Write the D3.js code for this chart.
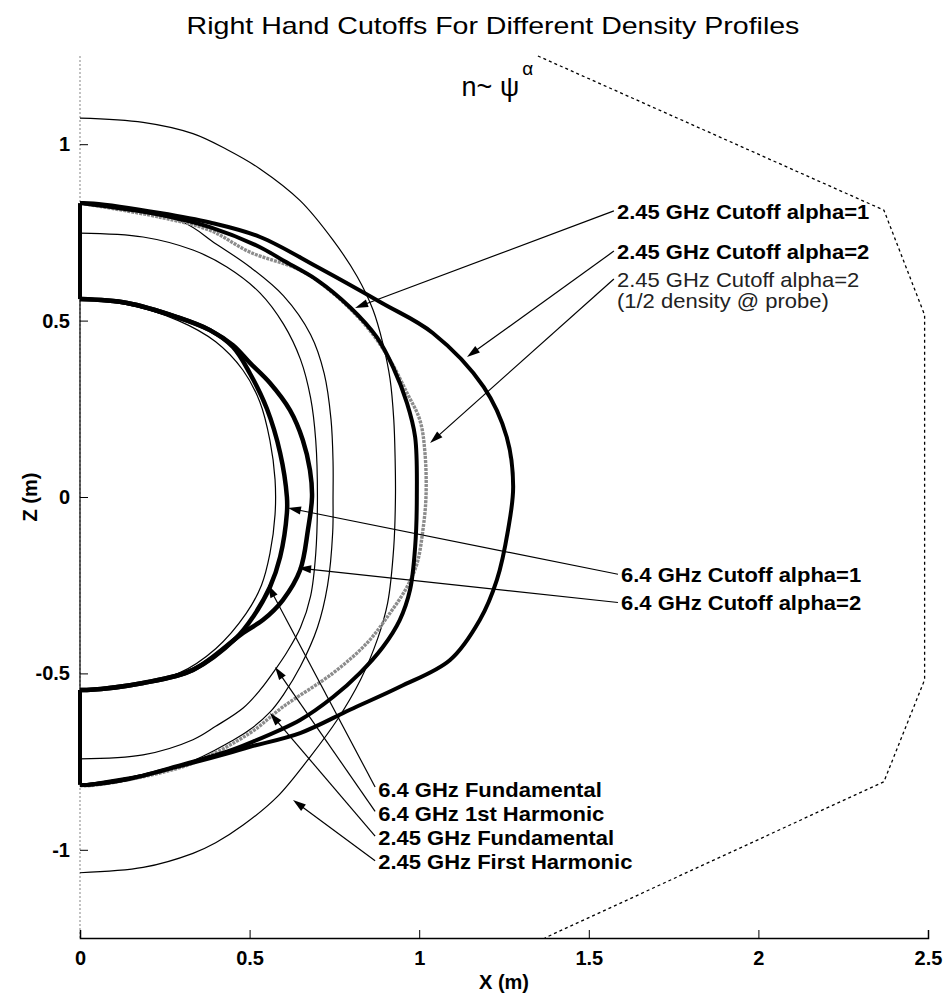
<!DOCTYPE html>
<html>
<head>
<meta charset="utf-8">
<script src="https://cdn.jsdelivr.net/npm/d3@7"></script>
<style>
  body { margin: 0; background: #fff; }
  text { font-family: "Liberation Sans", Arial, sans-serif; fill: #000; }
</style>
</head>
<body>
<div id="chart"></div>
<script>
// cutoff / resonance contours, [x, z] in metres, top -> bottom

// 2.45 GHz cutoff, alpha = 2 (outer thick)
const cut245a2 = [[0,0.833],[0.04,0.832],[0.236,0.805],[0.383,0.778],[0.531,0.737],[0.70,0.652],[0.89,0.55],[1.04,0.465],
  [1.19,0.312],[1.258,0.17],[1.277,0.03],[1.262,-0.093],[1.229,-0.235],[1.179,-0.348],[1.091,-0.462],[0.943,-0.538],
  [0.796,-0.603],[0.649,-0.669],[0.501,-0.708],[0.433,-0.727],[0.286,-0.765],[0.139,-0.800],[0.02,-0.816],[0,-0.816]];
// 2.45 GHz cutoff, alpha = 1
const cut245a1 = [[0,0.833],[0.236,0.80],[0.383,0.765],[0.531,0.708],[0.598,0.671],[0.699,0.615],[0.796,0.538],[0.875,0.453],
  [0.923,0.368],[0.964,0.266],[0.988,0.17],[0.993,0.0],[0.988,-0.142],[0.973,-0.263],[0.943,-0.348],[0.893,-0.425],
  [0.825,-0.499],[0.746,-0.567],[0.649,-0.632],[0.501,-0.697],[0.433,-0.722],[0.286,-0.763],[0.139,-0.800],[0.02,-0.816],[0,-0.816]];
// 2.45 GHz cutoff, alpha = 2, half density at probe (grey)
const cut245half = [[0,0.833],[0.236,0.793],[0.383,0.756],[0.501,0.694],[0.649,0.643],[0.746,0.578],[0.846,0.482],[0.914,0.388],
  [0.964,0.295],[1.002,0.218],[1.017,0.125],[1.020,0.0],[1.011,-0.093],[0.994,-0.187],[0.964,-0.255],[0.914,-0.329],
  [0.846,-0.414],[0.746,-0.499],[0.598,-0.595],[0.501,-0.669],[0.333,-0.754],[0.186,-0.793],[0.03,-0.818],[0,-0.818]];
// 6.4 GHz cutoff, alpha = 1
const cut64a1 = [[0,0.561],[0.139,0.550],[0.286,0.510],[0.383,0.473],[0.451,0.425],[0.501,0.35],[0.551,0.25],[0.590,0.125],
  [0.61,0.0],[0.61,-0.045],[0.59,-0.170],[0.56,-0.255],[0.51,-0.34],[0.46,-0.40],[0.333,-0.490],[0.186,-0.527],[0.02,-0.547],[0,-0.547]];
// 6.4 GHz cutoff, alpha = 2
const cut64a2 = [[0,0.561],[0.139,0.550],[0.286,0.510],[0.383,0.473],[0.451,0.43],[0.501,0.380],[0.56,0.323],[0.619,0.246],
  [0.657,0.161],[0.678,0.076],[0.684,0],[0.672,-0.093],[0.649,-0.207],[0.598,-0.292],[0.54,-0.348],[0.481,-0.385],
  [0.333,-0.490],[0.186,-0.527],[0.02,-0.547],[0,-0.547]];

// resonances (thin)
const res64fund = [[0,0.56],[0.14,0.545],[0.29,0.50],[0.40,0.44],[0.48,0.36],[0.53,0.27],[0.56,0.16],[0.575,0.05],
  [0.575,-0.05],[0.56,-0.16],[0.535,-0.25],[0.49,-0.33],[0.40,-0.43],[0.29,-0.50],[0.14,-0.535],[0,-0.547]];
const res64harm = [[0,0.748],[0.186,0.737],[0.333,0.70],[0.433,0.652],[0.531,0.578],[0.60,0.49],[0.65,0.39],[0.68,0.28],
  [0.695,0.16],[0.70,0.0],[0.695,-0.16],[0.68,-0.28],[0.65,-0.37],[0.61,-0.44],[0.575,-0.49],[0.531,-0.547],
  [0.481,-0.598],[0.40,-0.65],[0.333,-0.688],[0.186,-0.731],[0,-0.742]];
const res245fund = [[0,0.833],[0.30,0.78],[0.40,0.718],[0.501,0.652],[0.60,0.57],[0.68,0.46],[0.72,0.35],[0.74,0.22],
  [0.746,0.1],[0.746,0],[0.745,-0.1],[0.73,-0.25],[0.70,-0.37],[0.65,-0.48],[0.60,-0.56],[0.56,-0.61],[0.50,-0.66],
  [0.45,-0.69],[0.30,-0.76],[0,-0.816]];
const res245harm = [[0,1.074],[0.186,1.062],[0.333,1.030],[0.433,0.985],[0.531,0.930],[0.649,0.840],[0.746,0.728],
  [0.817,0.625],[0.864,0.530],[0.893,0.435],[0.914,0.335],[0.925,0.22],[0.929,0.11],[0.930,0],[0.925,-0.142],
  [0.907,-0.30],[0.878,-0.40],[0.827,-0.518],[0.758,-0.632],[0.678,-0.737],[0.581,-0.85],[0.481,-0.93],
  [0.40,-0.98],[0.333,-1.01],[0.186,-1.05],[0,-1.065]];

// vacuum vessel (dotted)
const vessel = [[1.35,1.25],[2.37,0.813],[2.49,0.516],[2.49,-0.518],[2.37,-0.807],[1.37,-1.25]];

// ticks
const xTicks = [0, 0.5, 1, 1.5, 2, 2.5];
const yTicks = [-1, -0.5, 0, 0.5, 1];

// labels: text, label anchor [x,z], arrow tip [x,z]
const labelText = ["2.45 GHz Cutoff alpha=1", "2.45 GHz Cutoff alpha=2", "2.45 GHz Cutoff alpha=2",
  "6.4 GHz Cutoff alpha=1", "6.4 GHz Cutoff alpha=2",
  "6.4 GHz Fundamental", "6.4 GHz 1st Harmonic", "2.45 GHz Fundamental", "2.45 GHz First Harmonic"];
const labelBold = [true, true, false, true, true, true, true, true, true];
const labelAt = [[1.583,0.808],[1.583,0.694],[1.583,0.615],[1.595,-0.221],[1.595,-0.301],
  [0.879,-0.830],[0.879,-0.899],[0.879,-0.967],[0.879,-1.035]];
const arrowFrom = [[1.574,0.811],[1.574,0.697],[1.574,0.618],[1.586,-0.219],[1.586,-0.299],
  [0.870,-0.822],[0.870,-0.891],[0.870,-0.961],[0.870,-1.031]];
const arrowTip = [[0.811,0.536],[1.141,0.397],[1.032,0.153],[0.613,-0.031],[0.643,-0.201],
  [0.554,-0.249],[0.575,-0.482],[0.560,-0.612],[0.628,-0.859]];

const W = 948, H = 996;
const svg = d3.select("#chart").append("svg").attr("width", W).attr("height", H);

const x = d3.scaleLinear().domain([0, 2.5]).range([80, 928]);
const y = d3.scaleLinear().domain([-1.25, 1.25]).range([938, 56]);
const smooth = d3.line().x(d => x(d[0])).y(d => y(d[1])).curve(d3.curveCatmullRom.alpha(0.5));
const straight = d3.line().x(d => x(d[0])).y(d => y(d[1]));

// AXES //
// left edge: grey speckled line with black middle
svg.append("line").attr("x1", x(0)).attr("x2", x(0)).attr("y1", y(1.25)).attr("y2", y(-1.25))
  .attr("stroke", "#999").attr("stroke-width", 1.2).attr("stroke-dasharray", "2,2");
svg.append("line").attr("x1", x(0)).attr("x2", x(0)).attr("y1", y(0.561)).attr("y2", y(-0.547))
  .attr("stroke", "#000").attr("stroke-width", 1.2);

const fmt = d => String(d);
const xAxis = svg.append("g").attr("transform", "translate(0," + y(-1.25) + ")")
  .call(d3.axisBottom(x).tickValues(xTicks).tickSize(-8).tickPadding(13).tickFormat(fmt));
xAxis.select(".domain").attr("stroke-width", 1.5);
xAxis.selectAll("text").style("font-size", "20px").style("font-weight", "bold")
  .style("font-family", "'Liberation Sans', Arial, sans-serif");

const yAxis = svg.append("g").attr("transform", "translate(" + x(0) + ",0)")
  .call(d3.axisLeft(y).tickValues(yTicks).tickSize(-8).tickPadding(10).tickFormat(fmt));
yAxis.select(".domain").remove();
yAxis.selectAll("text").style("font-size", "20px").style("font-weight", "bold")
  .style("font-family", "'Liberation Sans', Arial, sans-serif");

svg.append("text").attr("x", x(1.25)).attr("y", 989).attr("text-anchor", "middle")
  .style("font-size", "20px").style("font-weight", "bold").text("X (m)");
svg.append("text").attr("transform", "translate(37," + y(0) + ") rotate(-90)").attr("text-anchor", "middle")
  .style("font-size", "20px").style("font-weight", "bold").text("Z (m)");

// TITLE //
svg.append("text").attr("transform", "translate(" + 493 + ",34) scale(1.19,1)").attr("text-anchor", "middle")
  .style("font-size", "24px").text("Right Hand Cutoffs For Different Density Profiles");

// n ~ psi^alpha
const formula = svg.append("text").attr("x", x(1.125)).attr("y", 96).style("font-size", "27px");
formula.append("tspan").text("n~ ψ");
formula.append("tspan").attr("dy", -21).attr("dx", 3).style("font-size", "19px").text("α");

// CURVES //
svg.append("path").datum(vessel).attr("d", straight).attr("fill", "none")
  .attr("stroke", "#000").attr("stroke-width", 1.3).attr("stroke-dasharray", "3,3");

// thin resonances
[res245harm, res245fund, res64harm, res64fund].forEach(c => {
  svg.append("path").datum(c).attr("d", smooth).attr("fill", "none")
    .attr("stroke", "#000").attr("stroke-width", 1.2);
});

// grey half density curve
svg.append("path").datum(cut245half).attr("d", smooth).attr("fill", "none")
  .attr("stroke", "#8c8c8c").attr("stroke-width", 3.4).attr("stroke-dasharray", "3,1");

// thick cutoffs
[cut245a1, cut245a2].forEach(c => {
  svg.append("path").datum(c).attr("d", smooth).attr("fill", "none")
    .attr("stroke", "#000").attr("stroke-width", 4).attr("stroke-linejoin", "round");
});
[cut64a1, cut64a2].forEach(c => {
  svg.append("path").datum(c).attr("d", smooth).attr("fill", "none")
    .attr("stroke", "#000").attr("stroke-width", 4.5).attr("stroke-linejoin", "round");
});
// thick closing bits on the axis
svg.append("line").attr("x1", x(0)).attr("x2", x(0)).attr("y1", y(0.833)).attr("y2", y(0.561))
  .attr("stroke", "#000").attr("stroke-width", 4);
svg.append("line").attr("x1", x(0)).attr("x2", x(0)).attr("y1", y(-0.547)).attr("y2", y(-0.816))
  .attr("stroke", "#000").attr("stroke-width", 4);

// LABELS + ARROWS //
labelText.forEach((t, i) => {
  const x0 = x(arrowFrom[i][0]), y0 = y(arrowFrom[i][1]);
  const x1 = x(arrowTip[i][0]), y1 = y(arrowTip[i][1]);
  const a = Math.atan2(y1 - y0, x1 - x0);
  const len = 13, half = 4;
  svg.append("line").attr("x1", x0).attr("y1", y0)
    .attr("x2", x1 - Math.cos(a) * len * 0.8).attr("y2", y1 - Math.sin(a) * len * 0.8)
    .attr("stroke", "#000").attr("stroke-width", 1.2);
  const bx = x1 - Math.cos(a) * len, by = y1 - Math.sin(a) * len;
  svg.append("path")
    .attr("d", "M" + x1 + "," + y1 + "L" + (bx - Math.sin(a) * half) + "," + (by + Math.cos(a) * half)
      + "L" + (bx + Math.sin(a) * half) + "," + (by - Math.cos(a) * half) + "Z")
    .attr("fill", "#000");

  svg.append("text")
    .attr("transform", "translate(" + x(labelAt[i][0]) + "," + y(labelAt[i][1]) + ") scale(1.1,1)")
    .attr("dy", "0.35em")
    .style("font-size", "20px")
    .style("font-weight", labelBold[i] ? "bold" : "normal")
    .style("fill", labelBold[i] ? "#000" : "#222")
    .text(t);
});
// second line of the grey label
svg.append("text")
  .attr("transform", "translate(" + x(labelAt[2][0]) + "," + (y(labelAt[2][1]) + 21) + ") scale(1.1,1)")
  .attr("dy", "0.35em").style("font-size", "20px").style("fill", "#222")
  .text("(1/2 density @ probe)");
</script>
</body>
</html>
